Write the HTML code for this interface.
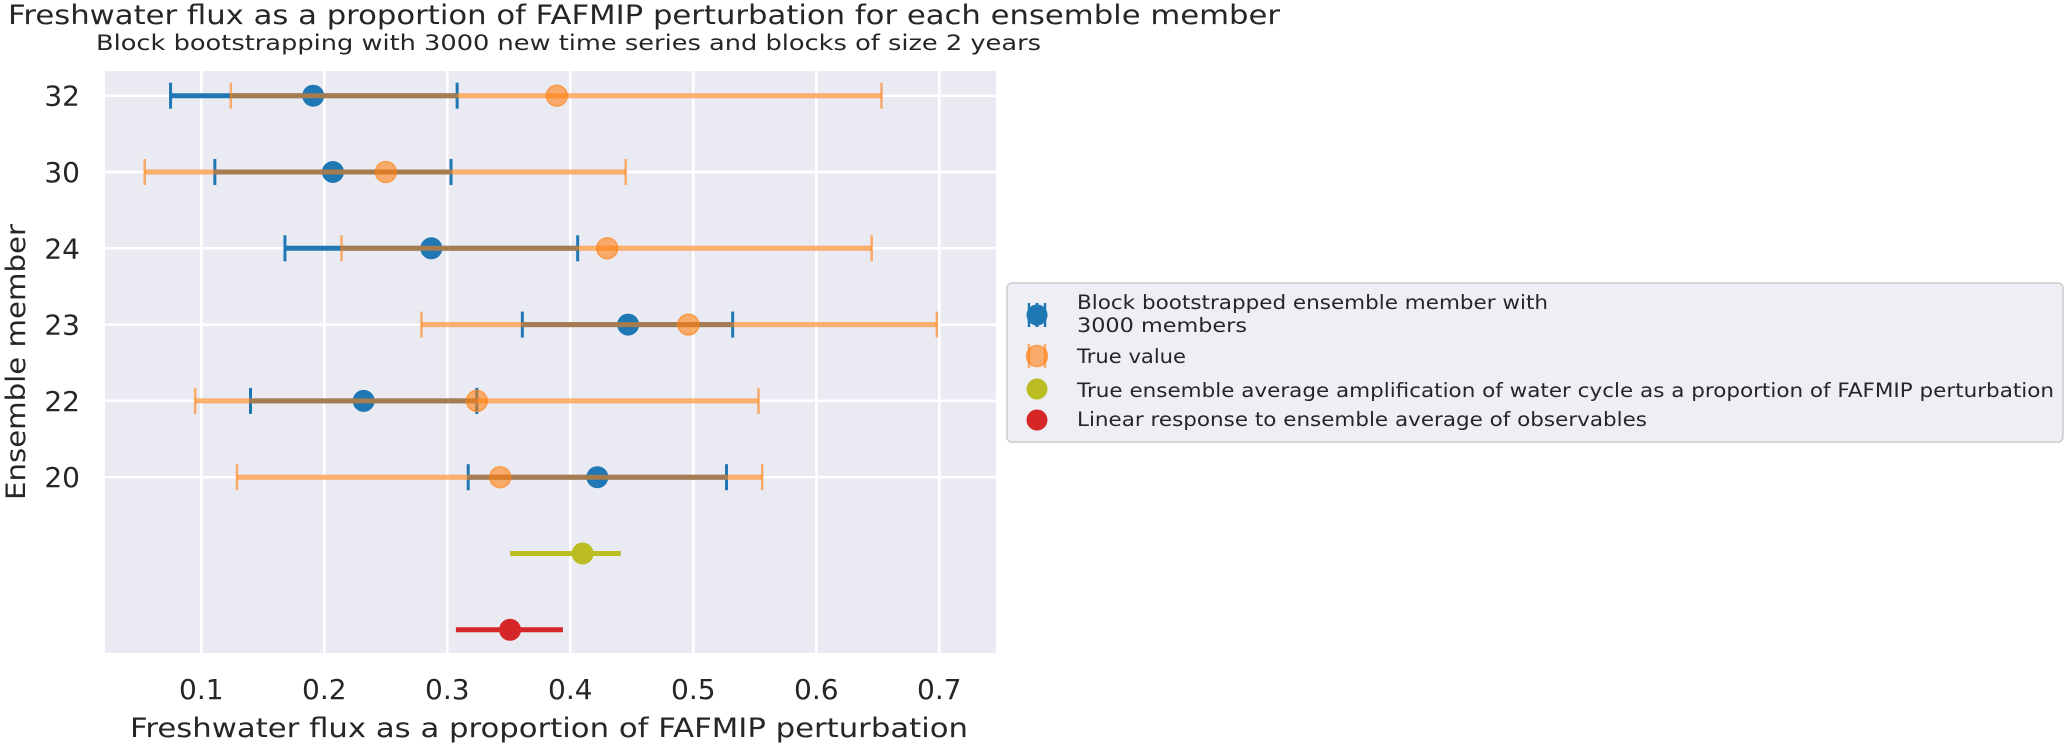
<!DOCTYPE html>
<html><head><meta charset="utf-8"><style>
html,body{margin:0;padding:0;background:#fff;}
svg{display:block;font-family:"DejaVu Sans","Liberation Sans",sans-serif;}
</style></head><body>
<svg id="chart" width="2067" height="748" viewBox="0 0 2067 748" xmlns="http://www.w3.org/2000/svg">
<text x="8" y="24" font-size="27" fill="#262626" textLength="1272" lengthAdjust="spacingAndGlyphs">Freshwater flux as a proportion of FAFMIP perturbation for each ensemble member</text>
<text x="96" y="50" font-size="21" fill="#262626" textLength="945" lengthAdjust="spacingAndGlyphs">Block bootstrapping with 3000 new time series and blocks of size 2 years</text>
<rect x="105" y="71" width="891" height="582" fill="#eaeaf2"/>
<g id="grid"></g>
<g id="marks"></g>
<g id="ticks"></g>
<text x="549" y="737" font-size="27" fill="#262626" text-anchor="middle" textLength="838" lengthAdjust="spacingAndGlyphs">Freshwater flux as a proportion of FAFMIP perturbation</text>
<text transform="translate(25,362) rotate(-90)" font-size="27" fill="#262626" text-anchor="middle" textLength="276" lengthAdjust="spacingAndGlyphs">Ensemble member</text>
<g>
<rect x="1007" y="283" width="1056" height="159" rx="5" fill="#eeeef5" stroke="#cccccc" stroke-width="1.5"/>
<line x1="1037" y1="303" x2="1037" y2="327" stroke="#1f77b4" stroke-width="3"/>
<line x1="1037" y1="315" x2="1037" y2="315" stroke="#1f77b4" stroke-width="5"/>
<circle cx="1037" cy="315" r="10.5" fill="#1f77b4"/>
<line x1="1029" y1="303" x2="1029" y2="327" stroke="#1f77b4" stroke-width="2.5"/>
<line x1="1045" y1="303" x2="1045" y2="327" stroke="#1f77b4" stroke-width="2.5"/>
<line x1="1029" y1="344" x2="1029" y2="368" stroke="#ff7f0e" stroke-opacity="0.6" stroke-width="2.5"/>
<line x1="1045" y1="344" x2="1045" y2="368" stroke="#ff7f0e" stroke-opacity="0.6" stroke-width="2.5"/>
<circle cx="1037" cy="356" r="10.5" fill="#ff7f0e" fill-opacity="0.6" stroke="#ff7f0e" stroke-opacity="0.6" stroke-width="1.5"/>
<circle cx="1037" cy="389" r="10.5" fill="#bcbd22"/>
<circle cx="1037" cy="420" r="10.5" fill="#d62728"/>
<text x="1077" y="309" font-size="19.5" fill="#262626" textLength="471" lengthAdjust="spacingAndGlyphs">Block bootstrapped ensemble member with</text>
<text x="1077" y="332" font-size="19.5" fill="#262626" textLength="170" lengthAdjust="spacingAndGlyphs"> 3000 members</text>
<text x="1077" y="363" font-size="19.5" fill="#262626" textLength="109" lengthAdjust="spacingAndGlyphs">True value</text>
<text x="1077" y="397" font-size="19.5" fill="#262626" textLength="977" lengthAdjust="spacingAndGlyphs">True ensemble average amplification of water cycle as a proportion of FAFMIP perturbation</text>
<text x="1077" y="426" font-size="19.5" fill="#262626" textLength="570" lengthAdjust="spacingAndGlyphs">Linear response to ensemble average of observables</text>
</g>
</svg>
<script>
const members = ["32","30","24","23","22","20"];
const bootMean = [0.191, 0.207, 0.287, 0.447, 0.232, 0.422];
const bootLow  = [0.075, 0.111, 0.168, 0.361, 0.140, 0.317];
const bootHigh = [0.308, 0.303, 0.406, 0.532, 0.324, 0.527];
const trueVal  = [0.389, 0.250, 0.430, 0.496, 0.324, 0.343];
const trueLow  = [0.124, 0.054, 0.214, 0.279, 0.095, 0.129];
const trueHigh = [0.653, 0.445, 0.645, 0.698, 0.553, 0.556];
const ensAvg = [0.410, 0.351, 0.441];
const linResp = [0.351, 0.307, 0.394];
const xTicks = [0.1, 0.2, 0.3, 0.4, 0.5, 0.6, 0.7];
const xTickLabels = ["0.1","0.2","0.3","0.4","0.5","0.6","0.7"];

const NS = "http://www.w3.org/2000/svg";
function xs(v){ return 201.3 + (v - 0.1) * 1230; }
function ys(i){ return 95.7 + i * 76.3; }
function mk(parent, tag, attrs){
  const e = document.createElementNS(NS, tag);
  for (const k in attrs) e.setAttribute(k, attrs[k]);
  document.getElementById(parent).appendChild(e);
  return e;
}
// grid
xTicks.forEach((t,i)=>{
  const g = mk('grid','line',{x1:xs(t),x2:xs(t),y1:71,y2:653,stroke:'#fff','stroke-width':2.5});
  
  
  const tl = mk('ticks','text',{x:xs(t),y:699,'font-size':28,fill:'#262626','text-anchor':'middle'});
  tl.textContent = xTickLabels[i];
  
  
});
members.forEach((m,i)=>{
  const g = mk('grid','line',{x1:105,x2:996,y1:ys(i),y2:ys(i),stroke:'#fff','stroke-width':2.5});
  
  
  const tl = mk('ticks','text',{x:80,y:ys(i)+10,'font-size':28,fill:'#262626','text-anchor':'end'});
  tl.textContent = m;
  
  
});
// boot series
members.forEach((m,i)=>{
  const y = ys(i);
  const l = mk('marks','line',{x1:xs(bootLow[i]),x2:xs(bootHigh[i]),y1:y,y2:y,stroke:'#1f77b4','stroke-width':5});
  
  
  [bootLow[i], bootHigh[i]].forEach(v=>{
    const c = mk('marks','line',{x1:xs(v),x2:xs(v),y1:y-13,y2:y+13,stroke:'#1f77b4','stroke-width':3});
    
    
  });
  const d = mk('marks','circle',{cx:xs(bootMean[i]),cy:y,r:11,fill:'#1f77b4'});
  
  
});
// true series
members.forEach((m,i)=>{
  const y = ys(i);
  const l = mk('marks','line',{x1:xs(trueLow[i]),x2:xs(trueHigh[i]),y1:y,y2:y,stroke:'#ff7f0e','stroke-opacity':0.6,'stroke-width':5});
  
  
  [trueLow[i], trueHigh[i]].forEach(v=>{
    const c = mk('marks','line',{x1:xs(v),x2:xs(v),y1:y-13,y2:y+13,stroke:'#ff7f0e','stroke-opacity':0.6,'stroke-width':2.5});
    
    
  });
  const d = mk('marks','circle',{cx:xs(trueVal[i]),cy:y,r:10.5,fill:'#ff7f0e','fill-opacity':0.6,stroke:'#ff7f0e','stroke-opacity':0.6,'stroke-width':1.5});
  
  
});
// ensemble average & linear response
[[ensAvg,'#bcbd22',6,'ensemble-average'],[linResp,'#d62728',7,'linear-response']].forEach(s=>{
  const arr=s[0], y=ys(s[2]);
  const l = mk('marks','line',{x1:xs(arr[1]),x2:xs(arr[2]),y1:y,y2:y,stroke:s[1],'stroke-width':5});
  
  
  const d = mk('marks','circle',{cx:xs(arr[0]),cy:y,r:11,fill:s[1]});
  
  
});
</script>
</body></html>
